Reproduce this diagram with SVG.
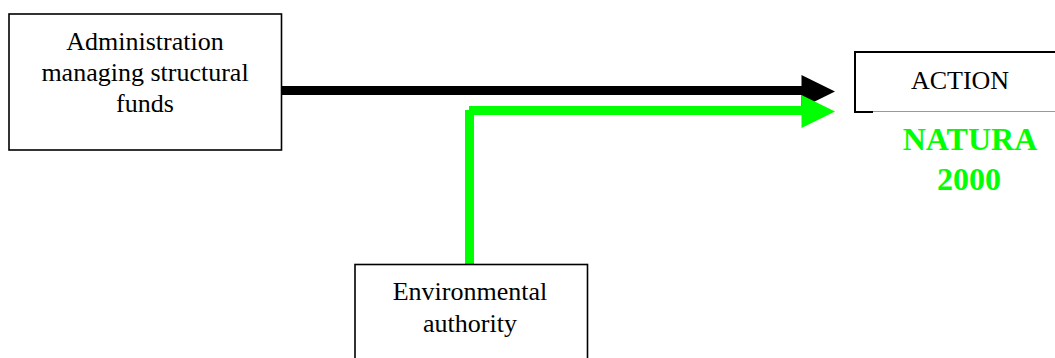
<svg xmlns="http://www.w3.org/2000/svg" width="1055" height="358" viewBox="0 0 1055 358">
<style>
.box{fill:#fff;stroke:#000;stroke-width:1.6}
.t{font-family:"Liberation Serif","Times New Roman",serif;font-size:26px;fill:#000;text-anchor:middle}
.n{font-family:"Liberation Serif","Times New Roman",serif;font-size:32px;font-weight:bold;fill:#00ff00;text-anchor:middle}
</style>
<rect width="1055" height="358" fill="#fff"/>
<g id="connectors">
<rect x="281" y="86" width="522" height="9" fill="#000"/>
<polygon points="801.5,75 835,91.5 801.5,108" fill="#000"/>
<rect x="465" y="110" width="9" height="155" fill="#00ff00"/>
<rect x="469" y="106" width="334" height="9" fill="#00ff00"/>
<polygon points="801.5,95 835,111.5 801.5,128" fill="#00ff00"/>
</g>
<g id="admin">
<rect class="box" x="9" y="14" width="272.5" height="136"/>
<text class="t" x="145" y="50">Administration</text>
<text class="t" x="145" y="81">managing structural</text>
<text class="t" x="145" y="112">funds</text>
</g>
<g id="action">
<line x1="855" y1="52" x2="1056" y2="52" stroke="#000" stroke-width="2"/>
<line x1="855" y1="51" x2="855" y2="113" stroke="#000" stroke-width="2"/>
<line x1="854" y1="112" x2="873" y2="112" stroke="#000" stroke-width="2"/>
<line x1="873" y1="111.5" x2="1056" y2="111.5" stroke="#999" stroke-width="1.2"/>
<text class="t" x="960" y="89">ACTION</text>
</g>
<g id="natura">
<text class="n" x="970" y="150">NATURA</text>
<text class="n" x="969" y="190">2000</text>
</g>
<g id="env">
<rect class="box" x="355" y="264.5" width="232.5" height="120"/>
<text class="t" x="470" y="300">Environmental</text>
<text class="t" x="470" y="332">authority</text>
</g>
</svg>
